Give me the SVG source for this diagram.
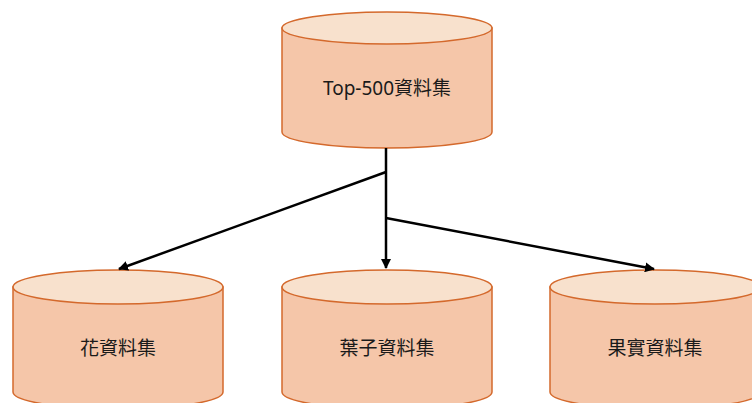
<svg xmlns="http://www.w3.org/2000/svg" width="752" height="403" viewBox="0 0 752 403">
  <style>
    .body { fill: #F5C6A9; stroke: #D4692C; stroke-width: 1.5; }
    .lid { fill: #F8E1CD; stroke: #D4692C; stroke-width: 1.5; }
    .label { font-family: "Noto Sans", "Noto Sans CJK TC", sans-serif; font-size: 19px; fill: #1a1a1a; text-anchor: middle; dominant-baseline: central; }
    .conn { stroke: #000; stroke-width: 2.5; fill: none; }
  </style>
  <defs>
    <marker id="arrow" viewBox="0 0 10 10" refX="9" refY="5" markerWidth="4" markerHeight="4" orient="auto" markerUnits="strokeWidth">
      <path d="M0,0 L10,5 L0,10 z" fill="#000"/>
    </marker>
  </defs>
  <rect width="752" height="403" fill="#fff"/>

  <g id="top500">
    <path class="body" d="M282,28 L282,132 A105,16 0 0 0 492,132 L492,28 Z"/>
    <ellipse class="lid" cx="387" cy="28" rx="105" ry="16"/>
    <text class="label" x="387" y="88">Top-500資料集</text>
  </g>

  <g id="flower">
    <path class="body" d="M13,287 L13,392 A105,17 0 0 0 223,392 L223,287 Z"/>
    <ellipse class="lid" cx="118" cy="287" rx="105" ry="17"/>
    <text class="label" x="118" y="348">花資料集</text>
  </g>

  <g id="leaf">
    <path class="body" d="M282,287 L282,392 A105,17 0 0 0 492,392 L492,287 Z"/>
    <ellipse class="lid" cx="387" cy="287" rx="105" ry="17"/>
    <text class="label" x="387" y="348">葉子資料集</text>
  </g>

  <g id="fruit">
    <path class="body" d="M550,287 L550,392 A105,17 0 0 0 760,392 L760,287 Z"/>
    <ellipse class="lid" cx="655" cy="287" rx="105" ry="17"/>
    <text class="label" x="655" y="348">果實資料集</text>
  </g>

  <g id="connectors">
    <line class="conn" x1="386" y1="148" x2="386" y2="268" marker-end="url(#arrow)"/>
    <line class="conn" x1="386" y1="172" x2="119" y2="269" marker-end="url(#arrow)"/>
    <line class="conn" x1="386" y1="218" x2="654" y2="269" marker-end="url(#arrow)"/>
  </g>
</svg>
